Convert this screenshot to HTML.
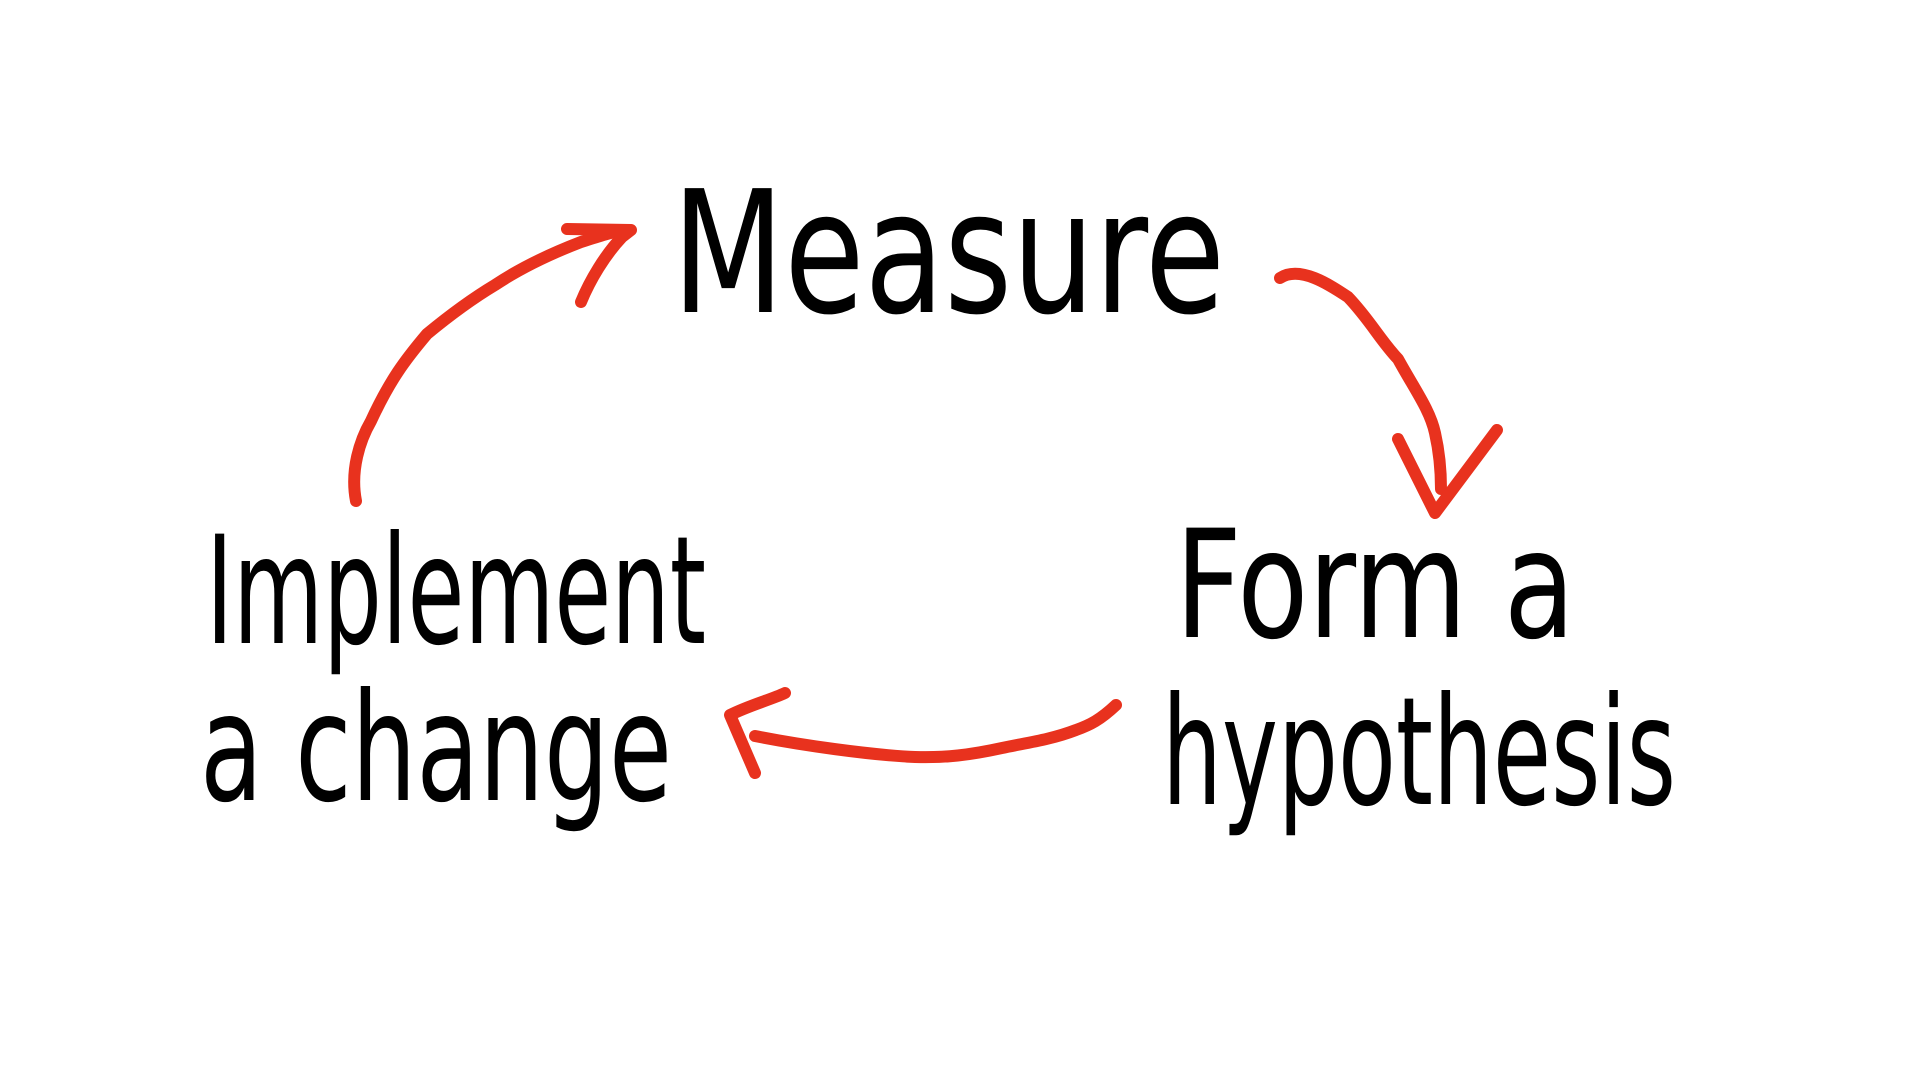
<!DOCTYPE html>
<html><head><meta charset="utf-8"><style>
html,body{margin:0;padding:0;background:#fff;width:1920px;height:1080px;overflow:hidden}
svg{display:block}
text{font-family:"DejaVu Sans Condensed","Liberation Sans Narrow","Liberation Sans",sans-serif;fill:#000}
</style></head><body>
<svg width="1920" height="1080" viewBox="0 0 1920 1080">
<text x="672" y="312" font-size="170" textLength="553" lengthAdjust="spacingAndGlyphs">Measure</text>
<text x="206" y="643" font-size="150" textLength="500" lengthAdjust="spacingAndGlyphs">Implement</text>
<text x="200" y="800" font-size="150" textLength="472" lengthAdjust="spacingAndGlyphs">a change</text>
<text x="1175" y="637" font-size="150" textLength="400" lengthAdjust="spacingAndGlyphs">Form a</text>
<text x="1162" y="804" font-size="150" textLength="514" lengthAdjust="spacingAndGlyphs">hypothesis</text>
<g fill="none" stroke="#e8321e" stroke-width="12" stroke-linecap="round" stroke-linejoin="round">
<path d="M356,501 C350,470 360,440 371,421 C390,380 405,360 427,334 C450,315 470,300 495,285 C525,265 555,252 581,242 C600,236 612,232 625,230"/>
<path d="M567,229 L631,230 L622,237 C605,255 590,280 581,302"/>
<path d="M1280,278 C1300,265 1330,285 1348,297 C1370,320 1380,340 1398,359 C1415,390 1430,410 1435,433 C1440,455 1441,475 1441,489"/>
<path d="M1398,439 L1435,513 L1497,430"/>
<path d="M1116,705 C1100,720 1090,725 1076,730 C1050,740 1025,743 1002,748 C970,755 945,758 915,757 C870,755 800,745 755,736"/>
<path d="M785,693 C770,700 750,705 730,715 L755,773"/>
</g>
</svg>
</body></html>
